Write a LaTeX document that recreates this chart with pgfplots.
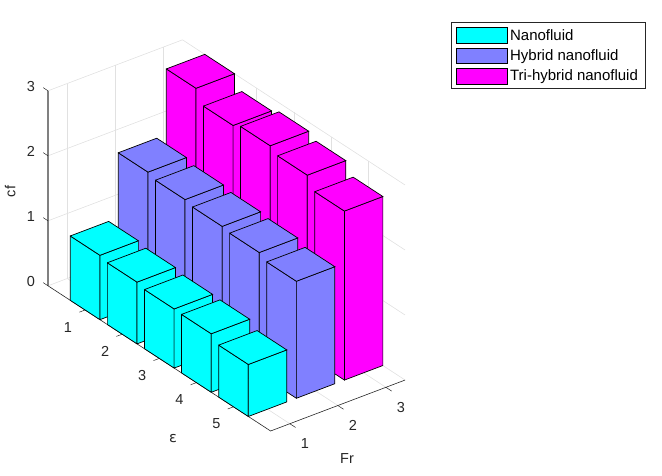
\documentclass[border=0pt]{standalone}
\usepackage{fontspec}
\setmainfont{Liberation Sans}
\usepackage{pgfplots}
\pgfplotsset{compat=1.18}

\definecolor{nano}{RGB}{0,255,255}
\definecolor{hybrid}{RGB}{128,128,255}
\definecolor{trihybrid}{RGB}{255,0,255}
\definecolor{gridc}{RGB}{225,225,225}
\definecolor{axisc}{RGB}{38,38,38}

% one bar: colour, Fr centre-0.4, Fr centre+0.4, eps centre-0.4, eps centre+0.4, height
\newcommand{\cuboid}[6]{%
  % side facing the eps axis
  \addplot3[forget plot,fill=#1,draw=black,line width=0.7pt] coordinates {(#2,#4,0) (#2,#5,0) (#2,#5,#6) (#2,#4,#6) (#2,#4,0)};
  % side facing the Fr axis
  \addplot3[forget plot,fill=#1,draw=black,line width=0.7pt] coordinates {(#2,#5,0) (#3,#5,0) (#3,#5,#6) (#2,#5,#6) (#2,#5,0)};
  % top
  \addplot3[forget plot,fill=#1,draw=black,line width=0.7pt] coordinates {(#2,#4,#6) (#2,#5,#6) (#3,#5,#6) (#3,#4,#6) (#2,#4,#6)};
}
% short tick segment, since pgfplots puts 3d ticks on the far edges as well
\newcommand{\tickseg}[6]{%
  \addplot3[forget plot,axisc,line width=0.5pt] coordinates {(#1,#2,#3) (#4,#5,#6)};
}

\begin{document}
\begin{tikzpicture}[x=1pt,y=1pt]
\path[use as bounding box] (0,0) rectangle (662,476);
\begin{axis}[
    at={(48pt,45pt)},
    anchor=south west,
    x={(48.04pt,18.2pt)},
    y={(-37.1pt,24.2pt)},
    y dir=reverse,
    z={(0pt,65pt)},
    xmin=0.6, xmax=3.4,
    ymin=0, ymax=6,
    zmin=0, zmax=3,
    xtick={1,2,3},
    ytick={1,2,3,4,5},
    ztick={0,1,2,3},
    grid=major,
    major grid style={gridc,line width=0.6pt},
    axis line style={draw=none},
    tick align=outside,
    major tick length=6pt,
    tick style={draw=none},
    clip=false,
    tick label style={font=\fontsize{14.5}{16}\selectfont,text=axisc,/pgf/number format/assume math mode=true},
    xticklabel style={anchor=center,xshift=10pt,yshift=-17pt},
    yticklabel style={anchor=center,xshift=-11.5pt,yshift=-15pt},
    zticklabel style={anchor=center,xshift=-12pt,yshift=1pt},
    xlabel={Fr},
    ylabel={\fontspec{DejaVu Sans}\char"03B5},
    zlabel={cf},
    every axis x label/.style={at={(axis description cs:0.8375,-0.0716)},anchor=center,font=\fontsize{14.5}{16}\selectfont,text=axisc},
    every axis y label/.style={at={(axis description cs:0.35,-0.02)},anchor=center,font=\fontsize{14.5}{16}\selectfont,text=axisc},
    every axis z label/.style={at={(axis description cs:-0.106,0.612)},anchor=center,rotate=90,font=\fontsize{14.5}{16}\selectfont,text=axisc},
    legend style={at={(axis description cs:1.129,1.0447)},anchor=north west,
        draw=axisc,line width=0.6pt,font=\fontsize{15}{17}\selectfont,
        inner xsep=5pt,inner ysep=4.5pt,row sep=4pt,
        cells={anchor=west}},
    legend image code/.code={\draw[#1,line width=0.6pt] (0pt,-7.8pt) rectangle (51pt,7.8pt);},
]
% rulers
\addplot3[forget plot,axisc,line width=0.6pt] coordinates {(0.6,0,0) (0.6,6,0) (3.4,6,0)};
\addplot3[forget plot,gray,line width=1.2pt] coordinates {(0.6,0,0) (0.6,0,3)};
% ticks
\tickseg{1}{6}{0}{1}{6.155}{0}
\tickseg{2}{6}{0}{2}{6.155}{0}
\tickseg{3}{6}{0}{3}{6.155}{0}
\tickseg{0.6}{1}{0}{0.48}{1}{0}
\tickseg{0.6}{2}{0}{0.48}{2}{0}
\tickseg{0.6}{3}{0}{0.48}{3}{0}
\tickseg{0.6}{4}{0}{0.48}{4}{0}
\tickseg{0.6}{5}{0}{0.48}{5}{0}
\tickseg{0.6}{0}{0}{0.6}{-0.13}{0}
\tickseg{0.6}{0}{1}{0.6}{-0.13}{1}
\tickseg{0.6}{0}{2}{0.6}{-0.13}{2}
\tickseg{0.6}{0}{3}{0.6}{-0.13}{3}

\addlegendimage{fill=nano,draw=black}
\addlegendentry{Nanofluid}
\addlegendimage{fill=hybrid,draw=black}
\addlegendentry{Hybrid nanofluid}
\addlegendimage{fill=trihybrid,draw=black}
\addlegendentry{Tri-hybrid nanofluid}

% drawn back to front: Fr = 3, 2, 1 and eps = 1 ... 5
\cuboid{trihybrid}{2.6}{3.4}{0.6}{1.4}{3.00}
\cuboid{trihybrid}{2.6}{3.4}{1.6}{2.4}{2.80}
\cuboid{trihybrid}{2.6}{3.4}{2.6}{3.4}{2.86}
\cuboid{trihybrid}{2.6}{3.4}{3.6}{4.4}{2.78}
\cuboid{trihybrid}{2.6}{3.4}{4.6}{5.4}{2.60}

\cuboid{hybrid}{1.6}{2.4}{0.6}{1.4}{1.99}
\cuboid{hybrid}{1.6}{2.4}{1.6}{2.4}{1.94}
\cuboid{hybrid}{1.6}{2.4}{2.6}{3.4}{1.90}
\cuboid{hybrid}{1.6}{2.4}{3.6}{4.4}{1.87}
\cuboid{hybrid}{1.6}{2.4}{4.6}{5.4}{1.80}

\cuboid{nano}{0.6}{1.4}{0.6}{1.4}{0.99}
\cuboid{nano}{0.6}{1.4}{1.6}{2.4}{0.95}
\cuboid{nano}{0.6}{1.4}{2.6}{3.4}{0.91}
\cuboid{nano}{0.6}{1.4}{3.6}{4.4}{0.90}
\cuboid{nano}{0.6}{1.4}{4.6}{5.4}{0.80}
\end{axis}
\end{tikzpicture}
\end{document}
